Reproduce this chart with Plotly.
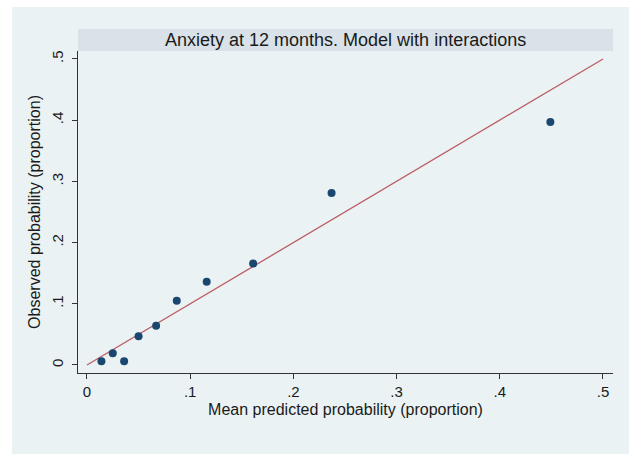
import plotly.graph_objects as go

# Data
mean_predicted = [0.014, 0.025, 0.036, 0.050, 0.067, 0.087, 0.116, 0.161, 0.237, 0.449]
observed = [0.006, 0.019, 0.006, 0.047, 0.064, 0.105, 0.136, 0.166, 0.281, 0.397]
ref_x = [0.0, 0.5]
ref_y = [0.0, 0.5]
tick_vals = [0, 0.1, 0.2, 0.3, 0.4, 0.5]
tick_text = ["0", ".1", ".2", ".3", ".4", ".5"]
title_text = "Anxiety at 12 months. Model with interactions"
x_title = "Mean predicted probability (proportion)"
y_title = "Observed probability (proportion)"

W, H = 629, 454
ml, mr, mt, mb = 78, 16, 51, 81
plot_w = W - ml - mr
plot_h = H - mt - mb

fig = go.Figure()
fig.add_trace(go.Scatter(x=ref_x, y=ref_y, mode="lines",
                         line=dict(color="#bc5d66", width=1.3),
                         showlegend=False, hoverinfo="skip"))
fig.add_trace(go.Scatter(x=mean_predicted, y=observed, mode="markers",
                         marker=dict(color="#1a476f", size=8),
                         showlegend=False))

family = "Liberation Sans, Arial, sans-serif"
txt = "#1a1a1a"
font = dict(family=family, size=15, color=txt)

fig.update_layout(
    width=W, height=H,
    margin=dict(l=ml, r=mr, t=mt, b=mb),
    paper_bgcolor="white",
    plot_bgcolor="white",
    font=font,
    shapes=[
        dict(type="rect", xref="paper", yref="paper", layer="below",
             x0=-(ml - 12) / plot_w, x1=1 + mr / plot_w,
             y0=-mb / plot_h, y1=1 + (mt - 7) / plot_h,
             fillcolor="#eaf2f3", line=dict(width=0)),
        dict(type="rect", xref="paper", yref="paper", layer="below",
             x0=0, x1=1, y0=1, y1=1 + 22 / plot_h,
             fillcolor="#d8e2e8", line=dict(width=0)),
    ],
    annotations=[
        dict(text=title_text, xref="paper", yref="paper", x=0.5,
             y=1 + 11 / plot_h, showarrow=False, xanchor="center",
             yanchor="middle", font=dict(family=family, size=18, color=txt)),
    ],
)

fig.update_xaxes(range=[-0.0087, 0.5097], tickvals=tick_vals, ticktext=tick_text,
                 showgrid=False, zeroline=False, showline=True, linecolor="#333",
                 linewidth=1.3, ticks="outside", ticklen=5, tickcolor="#333",
                 title=dict(text=x_title, standoff=4,
                            font=dict(family=family, size=16, color=txt)),
                 tickfont=dict(size=15))
fig.update_yaxes(range=[-0.0131, 0.513], tickvals=tick_vals, ticktext=tick_text,
                 showgrid=True, gridcolor="#eaf2f3", gridwidth=1,
                 zeroline=False, showline=True, linecolor="#333",
                 linewidth=1.3, ticks="outside", ticklen=5, tickcolor="#333",
                 tickangle=-90, ticklabelstandoff=3,
                 title=dict(text=y_title, standoff=4,
                            font=dict(family=family, size=16, color=txt)),
                 tickfont=dict(size=15))

fig.write_html("out.html", config={"displayModeBar": False},
               post_script="document.body.style.margin='0';")
